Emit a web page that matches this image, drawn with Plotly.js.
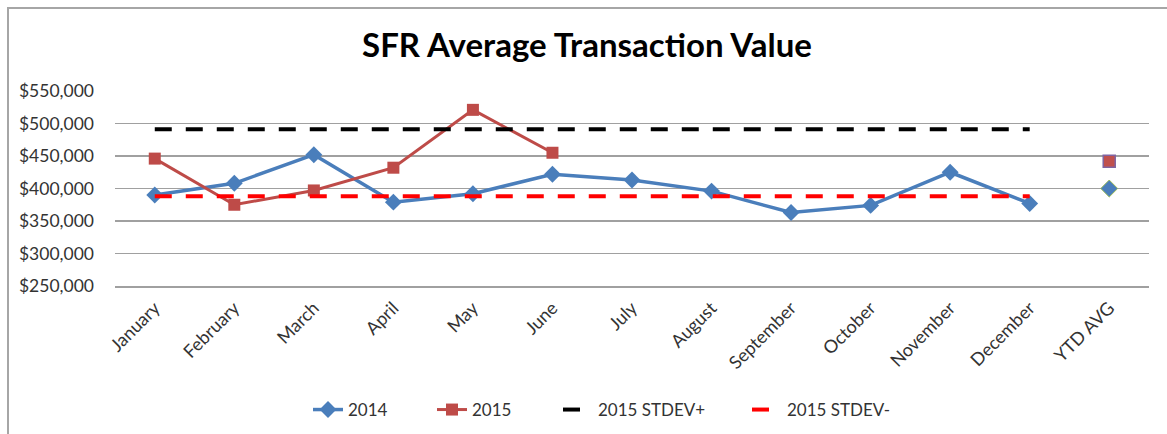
<!DOCTYPE html>
<html>
<head>
<meta charset="utf-8">
<script src="https://cdn.plot.ly/plotly-3.0.1.min.js"></script>
<style>
  html, body { margin: 0; padding: 0; background: #fff; overflow: hidden; }
  #wrap { position: relative; width: 1167px; height: 434px; overflow: hidden; }
  #chart { position: absolute; left: 0; top: 0; width: 1167px; height: 434px; }
  #frame { position: absolute; left: 7px; top: 7px; width: 1300px; height: 600px;
           border: 2px solid #a6a6a6; pointer-events: none; }
</style>
</head>
<body>
<div id="wrap">
  <div id="chart"></div>
  <div id="frame"></div>
</div>
<script>
const months = ["January","February","March","April","May","June","July","August","September","October","November","December"];
const ytdLabel = "YTD AVG";
const values2014 = [390000, 408000, 452000, 379000, 392000, 422000, 413000, 396000, 363000, 374000, 425000, 377000];
const values2015 = [446000, 375000, 397000, 432000, 521000, 455000];
const stdevPlus2015 = 491000;
const stdevMinus2015 = 388000;
const ytdAvg2014 = 400000;
const ytdAvg2015 = 442000;

const font = "Lato, 'Open Sans', 'Noto Sans', sans-serif";
const textColor = "#333333";

const traces = [
  {
    name: "2014", legend: "legend", x: months, y: values2014, type: "scatter", mode: "lines+markers",
    line: {color: "#4A7EBB", width: 3.5},
    marker: {symbol: "diamond", size: 13, color: "#4A7EBB"}
  },
  {
    name: "2015", legend: "legend2", x: months.slice(0, values2015.length), y: values2015, type: "scatter", mode: "lines+markers",
    line: {color: "#BE4B48", width: 3},
    marker: {symbol: "square", size: 12, color: "#BE4B48"}
  },
  {
    name: "2015 STDEV+", legend: "legend3", x: months, y: months.map(() => stdevPlus2015), type: "scatter", mode: "lines",
    line: {color: "#000000", width: 4, dash: "17px,14px"}
  },
  {
    name: "2015 STDEV-", legend: "legend4", x: months, y: months.map(() => stdevMinus2015), type: "scatter", mode: "lines",
    line: {color: "#FF0000", width: 4, dash: "17px,14px"}
  },
  {
    name: "2014 YTD AVG", x: [ytdLabel], y: [ytdAvg2014], type: "scatter", mode: "markers", showlegend: false,
    marker: {symbol: "diamond", size: 13, color: "#4A7EBB", line: {color: "#9BBB59", width: 1}}
  },
  {
    name: "2015 YTD AVG", x: [ytdLabel], y: [ytdAvg2015], type: "scatter", mode: "markers", showlegend: false,
    marker: {symbol: "square", size: 12, color: "#C0504D", line: {color: "#8064A2", width: 1.5}}
  }
];

function legendAt(px) {
  return {
    orientation: "h", x: px / 1167, xref: "container", xanchor: "left",
    y: 24 / 434, yref: "container", yanchor: "middle",
    font: {size: 17, family: font, color: textColor}, bgcolor: "rgba(0,0,0,0)"
  };
}

const layout = {
  width: 1167, height: 434,
  paper_bgcolor: "#ffffff", plot_bgcolor: "#ffffff",
  margin: {l: 115, r: 18, t: 91, b: 148, autoexpand: false},
  font: {family: font, color: textColor, size: 16},
  title: {
    text: "<b>SFR Average Transaction Value</b>",
    font: {family: font, size: 33, color: "#000000"},
    x: 0.503, xref: "container", xanchor: "center",
    y: 0.895, yref: "container", yanchor: "middle"
  },
  xaxis: {
    type: "category", categoryorder: "array", categoryarray: months.concat([ytdLabel]),
    range: [-0.5, 12.5],
    tickangle: -45, tickfont: {size: 18, family: font, color: textColor},
    ticklabelstandoff: 3,
    showgrid: false, zeroline: false, showline: true, linecolor: "#a0a0a0", linewidth: 1.5,
    ticks: ""
  },
  yaxis: {
    range: [250000, 550000], dtick: 50000, tick0: 250000,
    tickprefix: "$", tickformat: ",d",
    tickfont: {size: 17.5, family: font, color: textColor},
    ticklabelstandoff: 20,
    showgrid: true, gridcolor: "#a0a0a0", gridwidth: 1.5,
    zeroline: false, showline: false, ticks: "", ticklen: 0,
    automargin: false
  },
  legend: legendAt(308),
  legend2: legendAt(432),
  legend3: legendAt(558),
  legend4: legendAt(747),
  showlegend: true
};

Plotly.newPlot("chart", traces, layout, {displayModeBar: false, staticPlot: true});
</script>
</body>
</html>
